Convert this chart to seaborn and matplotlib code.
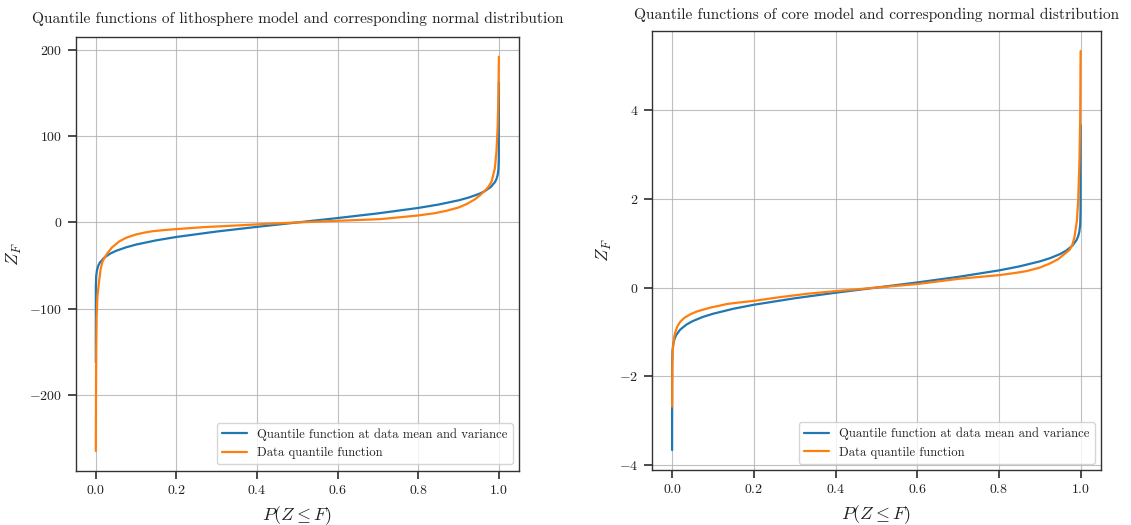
import matplotlib
matplotlib.use("Agg")
import matplotlib.pyplot as plt
import seaborn as sns
import pandas as pd

# Lithosphere model: quantile curves (probability -> Z_F)
litho_norm_p = [0.0, 0.0001, 0.001, 0.003, 0.006, 0.01, 0.02, 0.035, 0.05, 0.075, 0.1,
                0.15, 0.2, 0.3, 0.4, 0.5, 0.6, 0.7, 0.8, 0.85, 0.9, 0.925, 0.95, 0.965,
                0.98, 0.99, 0.994, 0.997, 0.999, 0.9999, 1.0]
litho_norm_z = [-162.0, -74.4, -61.8, -55.0, -50.2, -46.5, -41.1, -36.2, -32.9, -28.8, -25.6,
                -20.7, -16.8, -10.5, -5.1, 0.0, 5.1, 10.5, 16.8, 20.7, 25.6, 28.8, 32.9, 36.2,
                41.1, 46.5, 50.2, 55.0, 61.8, 74.4, 162.0]

litho_data_p = [0.0, 0.0005, 0.001, 0.002, 0.004, 0.008, 0.012, 0.0166, 0.022, 0.029, 0.04,
                0.058, 0.075, 0.099, 0.12, 0.14, 0.17, 0.2, 0.268, 0.35, 0.43, 0.5, 0.6,
                0.705, 0.8, 0.84, 0.87, 0.9, 0.92, 0.94, 0.953, 0.965, 0.975, 0.982, 0.990,
                0.994, 0.997, 0.999, 1.0]
litho_data_z = [-264.6, -190.0, -150.0, -110.0, -85.0, -68.5, -54.0, -45.4, -40.5, -35.5, -29.0,
                -22.0, -17.8, -14.0, -11.8, -10.2, -8.8, -7.7, -5.4, -3.5, -1.5, 0.0, 1.9,
                3.8, 8.1, 10.6, 13.5, 17.3, 21.3, 26.6, 31.4, 36.6, 41.8, 47.3, 62.6,
                81.9, 110.0, 150.0, 191.8]

# Core model: quantile curves (probability -> Z_F)
core_norm_p = litho_norm_p
core_norm_z = [-3.66, -1.711, -1.421, -1.264, -1.155, -1.070, -0.945, -0.834, -0.757, -0.662, -0.590,
               -0.477, -0.387, -0.241, -0.116, 0.0, 0.116, 0.241, 0.387, 0.477, 0.590, 0.662, 0.757,
               0.834, 0.945, 1.070, 1.155, 1.264, 1.421, 1.711, 3.66]

core_data_p = [0.0, 0.0005, 0.0012, 0.0024, 0.005, 0.008, 0.013, 0.020, 0.03, 0.045, 0.06,
               0.075, 0.094, 0.11, 0.134, 0.16, 0.2, 0.26, 0.33, 0.4, 0.5, 0.6, 0.704, 0.8,
               0.84, 0.867, 0.9, 0.924, 0.945, 0.957, 0.973, 0.98, 0.985, 0.991,
               0.994, 0.997, 0.999, 1.0]
core_data_z = [-2.68, -1.8, -1.45, -1.33, -1.12, -1.0, -0.87, -0.77, -0.68, -0.60, -0.54,
               -0.50, -0.45, -0.42, -0.37, -0.34, -0.30, -0.22, -0.14, -0.08, 0.0, 0.08, 0.20, 0.28,
               0.33, 0.37, 0.45, 0.54, 0.64, 0.73, 0.85, 0.97, 1.14, 1.51,
               1.96, 2.8, 3.8, 5.33]

titles = ["Quantile functions of lithosphere model and corresponding normal distribution",
          "Quantile functions of core model and corresponding normal distribution"]
series_labels = ["Quantile function at data mean and variance", "Data quantile function"]
xticks = [0.0, 0.2, 0.4, 0.6, 0.8, 1.0]
yticks_litho = [-200, -100, 0, 100, 200]
yticks_core = [-4, -2, 0, 2, 4]

sns.set_theme(style="ticks")
plt.rcParams.update({
    "font.family": "cmr10",
    "mathtext.fontset": "cm",
    "axes.formatter.use_mathtext": True,
    "axes.edgecolor": "#333333",
    "axes.linewidth": 1.0,
    "xtick.color": "#333333",
    "ytick.color": "#333333",
    "xtick.labelcolor": "#222222",
    "ytick.labelcolor": "#222222",
    "xtick.labelsize": 10,
    "ytick.labelsize": 10,
})

fig = plt.figure(figsize=(11.31, 5.25), dpi=100)
ax1 = fig.add_axes([0.0669, 0.1034, 0.392, 0.826])
ax2 = fig.add_axes([0.5762, 0.1048, 0.3973, 0.836])

panels = [
    (ax1, litho_norm_p, litho_norm_z, litho_data_p, litho_data_z, titles[0], yticks_litho, 10),
    (ax2, core_norm_p, core_norm_z, core_data_p, core_data_z, titles[1], yticks_core, 9),
]

for ax, np_, nz, dp, dz, title, yt, tpad in panels:
    df = pd.concat([
        pd.DataFrame({"p": np_, "z": nz, "series": series_labels[0]}),
        pd.DataFrame({"p": dp, "z": dz, "series": series_labels[1]}),
    ], ignore_index=True)
    sns.lineplot(data=df, x="p", y="z", hue="series", estimator=None, sort=False,
                 palette=["#1f77b4", "#ff7f0e"], linewidth=1.6, ax=ax)
    ax.set_xticks(xticks)
    ax.set_yticks(yt)
    ax.grid(True, color="#b0b0b0", linewidth=0.8, alpha=0.8)
    ax.set_axisbelow(True)
    ax.set_title(title, fontsize=11.1, pad=tpad, color="#222222")
    ax.set_xlabel(r"$P(Z \leq F)$", fontsize=13, labelpad=5, color="#222222")
    ax.set_ylabel(r"$Z_F$", fontsize=13, labelpad=4, color="#222222")
    leg = ax.legend(loc="lower right", fontsize=9.1, frameon=True, framealpha=0.8,
                    edgecolor="#cccccc", fancybox=True, title=None)
    for t in leg.get_texts():
        t.set_color("#222222")

fig.savefig("out.png", dpi=100)
